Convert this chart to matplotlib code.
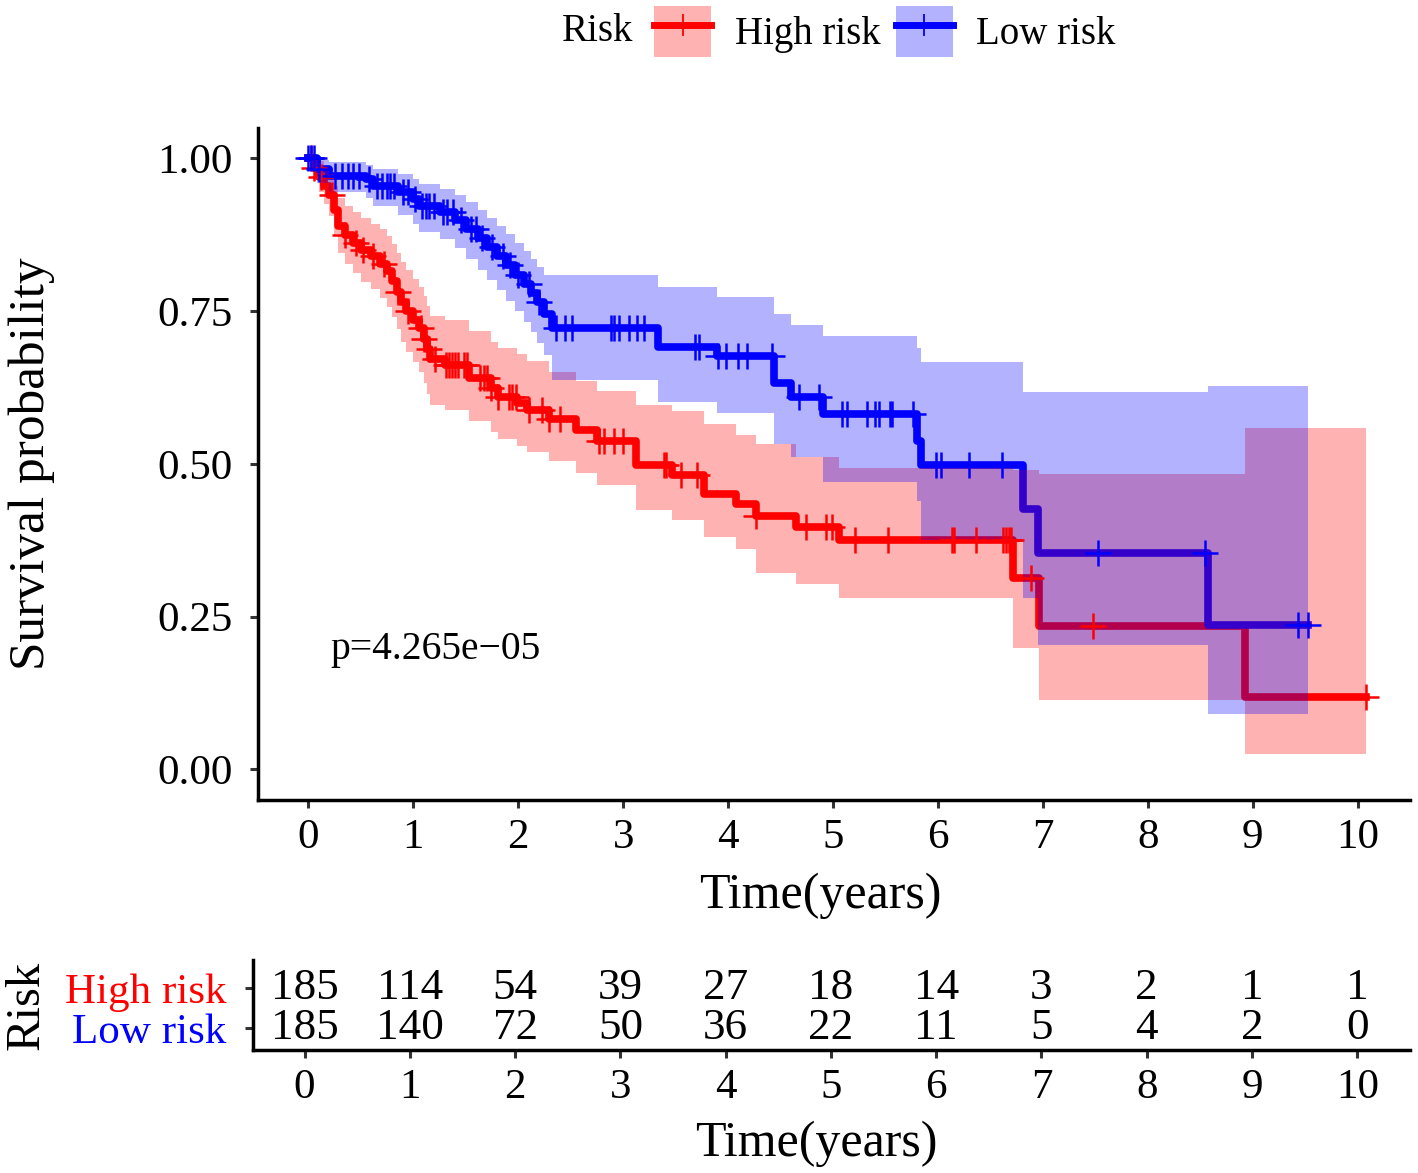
import numpy as np
import matplotlib
matplotlib.use("Agg")
import matplotlib.pyplot as plt
from matplotlib.patches import Patch
from matplotlib.lines import Line2D
from matplotlib.legend_handler import HandlerTuple

plt.rcParams['font.family'] = ['Liberation Serif', 'DejaVu Serif']

# ---- data ----
# high risk group: step times, survival, lower / upper CI
high_t = [0.00, 0.05, 0.10, 0.15, 0.20, 0.24, 0.28, 0.35, 0.42, 0.50, 0.60, 0.68, 0.75, 0.80,
          0.84, 0.88, 0.93, 1.00, 1.05, 1.10, 1.13, 1.16, 1.30, 1.53, 1.74, 1.81, 1.99, 2.08,
          2.29, 2.55, 2.75, 3.12, 3.47, 3.77, 4.08, 4.27, 4.65, 5.06, 6.72, 6.96, 8.93]
high_s = [1.000, 0.985, 0.970, 0.955, 0.940, 0.915, 0.890, 0.875, 0.862, 0.850, 0.840, 0.828, 0.815, 0.800,
          0.782, 0.765, 0.750, 0.735, 0.722, 0.705, 0.688, 0.672, 0.662, 0.640, 0.625, 0.610, 0.600, 0.589,
          0.573, 0.555, 0.538, 0.499, 0.482, 0.450, 0.434, 0.415, 0.397, 0.375, 0.314, 0.234, 0.118]
high_lo = [1.000, 0.965, 0.945, 0.925, 0.905, 0.875, 0.845, 0.828, 0.812, 0.798, 0.786, 0.772, 0.757, 0.740,
           0.720, 0.700, 0.683, 0.666, 0.650, 0.632, 0.614, 0.597, 0.588, 0.570, 0.552, 0.540, 0.530, 0.520,
           0.505, 0.485, 0.465, 0.425, 0.409, 0.380, 0.360, 0.322, 0.304, 0.281, 0.198, 0.113, 0.025]
high_hi = [1.000, 1.000, 0.995, 0.985, 0.975, 0.955, 0.935, 0.922, 0.912, 0.902, 0.893, 0.884, 0.873, 0.860,
           0.845, 0.830, 0.817, 0.803, 0.790, 0.775, 0.758, 0.742, 0.735, 0.718, 0.700, 0.690, 0.680, 0.668,
           0.650, 0.635, 0.620, 0.597, 0.586, 0.565, 0.548, 0.532, 0.512, 0.493, 0.490, 0.483, 0.558]
high_end = 10.08
high_cens = [0.02, 0.05, 0.12, 0.22, 0.35, 0.45, 0.52, 0.62, 0.72, 0.85, 0.95, 1.07, 1.10, 1.15, 1.21,
             1.31, 1.34, 1.37, 1.40, 1.43, 1.48, 1.51, 1.64, 1.67, 1.70, 1.74, 1.81, 1.91, 1.94, 1.98,
             2.10, 2.23, 2.29, 2.40, 2.77, 2.82, 2.91, 3.00, 3.39, 3.41, 3.55, 3.70, 4.27, 4.74, 4.93,
             4.99, 5.21, 5.52, 6.13, 6.15, 6.36, 6.62, 6.65, 6.68, 6.70, 6.89, 7.48, 10.08]

# low risk group
low_t = [0.00, 0.08, 0.20, 0.55, 0.62, 0.85, 1.00, 1.05, 1.25, 1.40, 1.50, 1.62, 1.70, 1.80, 1.88,
         1.97, 2.05, 2.12, 2.18, 2.25, 2.32, 3.33, 3.89, 4.44, 4.60, 4.90, 5.80, 5.84, 6.81, 6.95, 8.57]
low_s = [1.000, 0.983, 0.972, 0.966, 0.955, 0.945, 0.933, 0.922, 0.912, 0.900, 0.885, 0.870, 0.855, 0.840, 0.825,
         0.810, 0.795, 0.780, 0.765, 0.745, 0.722, 0.692, 0.676, 0.633, 0.610, 0.581, 0.537, 0.498, 0.426, 0.355, 0.237]
low_lo = [1.000, 0.960, 0.945, 0.936, 0.922, 0.908, 0.893, 0.880, 0.868, 0.853, 0.836, 0.818, 0.801, 0.784, 0.767,
          0.750, 0.733, 0.716, 0.698, 0.678, 0.638, 0.602, 0.584, 0.532, 0.512, 0.471, 0.440, 0.376, 0.280, 0.204, 0.090]
low_hi = [1.000, 0.998, 0.994, 0.990, 0.982, 0.975, 0.966, 0.958, 0.950, 0.940, 0.928, 0.915, 0.902, 0.890, 0.877,
          0.862, 0.848, 0.835, 0.822, 0.810, 0.810, 0.789, 0.774, 0.745, 0.728, 0.710, 0.690, 0.666, 0.617, 0.617, 0.627]
low_end = 9.53
low_cens = [0.00, 0.02, 0.05, 0.10, 0.25, 0.32, 0.38, 0.42, 0.48, 0.58, 0.65, 0.70, 0.75, 0.78, 0.82,
            0.90, 0.95, 1.02, 1.08, 1.12, 1.15, 1.20, 1.28, 1.32, 1.38, 1.45, 1.55, 1.60, 1.65, 1.75,
            1.85, 1.92, 2.00, 2.10, 2.20, 2.36, 2.45, 2.51, 2.88, 2.91, 2.96, 3.06, 3.13, 3.20, 3.68,
            3.72, 3.90, 3.98, 4.09, 4.18, 4.42, 4.68, 4.87, 5.09, 5.13, 5.32, 5.40, 5.44, 5.54, 5.56,
            5.76, 5.98, 6.03, 6.30, 6.61, 7.53, 8.55, 9.43, 9.53]

groups = ['High risk', 'Low risk']
colors = ['#FF0000', '#0000FF']
risk_times = list(range(0, 11))
high_risk_n = [185, 114, 54, 39, 27, 18, 14, 3, 2, 1, 1]
low_risk_n = [185, 140, 72, 50, 36, 22, 11, 5, 4, 2, 0]
pval_text = 'p=4.265e\u221205'


def surv_at(t, ts, ss):
    idx = np.searchsorted(ts, t, side='right') - 1
    return np.asarray(ss)[idx]


fig = plt.figure(figsize=(14.18, 11.73), dpi=100)
ax = fig.add_axes([0.182, 0.318, 0.8124, 0.573])

series = [(high_t, high_s, high_lo, high_hi, high_end, high_cens),
          (low_t, low_s, low_lo, low_hi, low_end, low_cens)]

# lines under the ribbons, censor marks on top (as in the original)
for (t, s, lo, hi, end, cens), col in zip(series, colors):
    tt = np.append(t, end)
    ax.step(tt, np.append(s, s[-1]), where='post', color=col, lw=5.5, zorder=1)
for (t, s, lo, hi, end, cens), col in zip(series, colors):
    tt = np.append(t, end)
    ax.fill_between(tt, np.append(lo, lo[-1]), np.append(hi, hi[-1]), step='post',
                    color=col, alpha=0.3, lw=0, zorder=2)
for (t, s, lo, hi, end, cens), col in zip(series, colors):
    ax.plot(cens, surv_at(cens, t, s), ls='none', marker='+', ms=19, mew=1.8,
            color=col, zorder=3)

ax.text(0.21, 0.196, pval_text, fontsize=28.5, ha='left', va='center')

ax.set_xlim(-0.48, 10.5)
ax.set_ylim(-0.05, 1.05)
ax.set_xticks(range(0, 11))
ax.set_yticks([0, 0.25, 0.5, 0.75, 1.0])
ax.set_yticklabels(['0.00', '0.25', '0.50', '0.75', '1.00'])
ax.set_xlabel('Time(years)', fontsize=36)
ax.xaxis.set_label_coords(0.488, -0.108)
ax.set_ylabel('Survival probability', fontsize=37)
ax.yaxis.set_label_coords(-0.176, 0.5)
for sp in ['top', 'right']:
    ax.spines[sp].set_visible(False)
for sp in ['left', 'bottom']:
    ax.spines[sp].set_linewidth(2.5)
ax.tick_params(labelsize=31, width=2.2, length=6, color='#333333')
ax.tick_params(axis='y', pad=12)
ax.tick_params(axis='x', pad=7)

# legend on top
handles = []
for col in colors:
    handles.append((Patch(facecolor=col, alpha=0.3, edgecolor='none'),
                    Line2D([], [], color=col, lw=5, marker='+', ms=16, mew=1.3)))
fig.legend(handles, groups, ncol=2, loc='center', bbox_to_anchor=(0.624, 0.973),
           frameon=False, fontsize=28, handlelength=1.47, handleheight=1.65,
           handletextpad=0.6, columnspacing=0.4, borderpad=0,
           handler_map={tuple: HandlerTuple(ndivide=1, pad=0)})
fig.text(0.396, 0.973, 'Risk', fontsize=28, ha='left', va='center')

# risk table
tab = fig.add_axes([0.1784, 0.1049, 0.8159, 0.0767])
for yv, nums in zip([2, 1], [high_risk_n, low_risk_n]):
    for x, n in zip(risk_times, nums):
        tab.text(x, yv, str(n), fontsize=32.5, ha='center', va='center')
tab.set_xlim(-0.49, 10.5)
tab.set_ylim(0.45, 2.7)
tab.set_xticks(risk_times)
tab.set_yticks([2, 1])
tab.set_yticklabels(groups)
for lab, col in zip(tab.get_yticklabels(), colors):
    lab.set_color(col)
tab.set_xlabel('Time(years)', fontsize=36)
tab.xaxis.set_label_coords(0.487, -0.78)
tab.set_ylabel('Risk', fontsize=35)
tab.yaxis.set_label_coords(-0.177, 0.5)
for sp in ['top', 'right']:
    tab.spines[sp].set_visible(False)
for sp in ['left', 'bottom']:
    tab.spines[sp].set_linewidth(2.5)
tab.tick_params(labelsize=31, width=2.2, length=6, color='#333333')
tab.tick_params(axis='y', pad=13)
tab.tick_params(axis='x', pad=7)

fig.savefig('out.png', dpi=100)
